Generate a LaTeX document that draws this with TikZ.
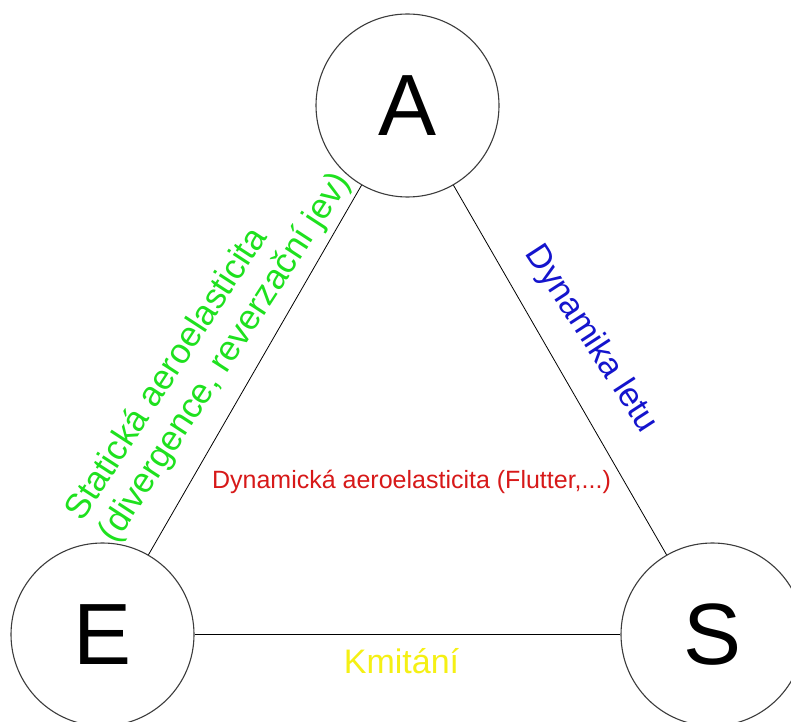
\documentclass[tikz,border=0pt]{standalone}
\usepackage{fontspec}
\setmainfont{Liberation Sans}
\definecolor{labgreen}{RGB}{30,225,30}
\definecolor{labblue}{RGB}{20,20,205}
\definecolor{labred}{RGB}{215,25,25}
\definecolor{labyellow}{RGB}{245,240,20}
\definecolor{ringgray}{RGB}{60,60,60}
\begin{document}
\begin{tikzpicture}[x=1pt,y=1pt,
  vertex/.style={circle, draw=ringgray, line width=1.1pt, minimum size=183pt, inner sep=0pt, font=\fontsize{87}{87}\selectfont},
  edge/.style={draw=black, line width=0.8pt},
  edgelabel/.style={font=\fontsize{34}{39}\selectfont, inner sep=0pt}]
\useasboundingbox (0,0) rectangle (791,721);
\fill[white] (0,0) rectangle (791,721);
\node[vertex] (A) at (407.5,615.5) {A};
\node[vertex] (E) at (102.5,86.5) {E};
\node[vertex] (S) at (712.5,86.5) {S};
\draw[edge] (A) -- (E);
\draw[edge] (A) -- (S);
\draw[edge] (E) -- (S);
\node[edgelabel, font=\fontsize{35}{40}\selectfont, text=labgreen, rotate=57, align=left] (stat) at (209,374) {Statická aeroelasticita\\(divergence, reverzační jev)};
\node[edgelabel, text=labblue, rotate=-57] (dyn) at (591,382) {Dynamika letu};
\node[font=\fontsize{25}{29}\selectfont, text=labred, inner sep=0pt] (flut) at (411.5,239) {Dynamická aeroelasticita (Flutter,...)};
\node[edgelabel, text=labyellow, anchor=base] (kmit) at (401.5,48) {Kmitání};
\end{tikzpicture}
\end{document}
